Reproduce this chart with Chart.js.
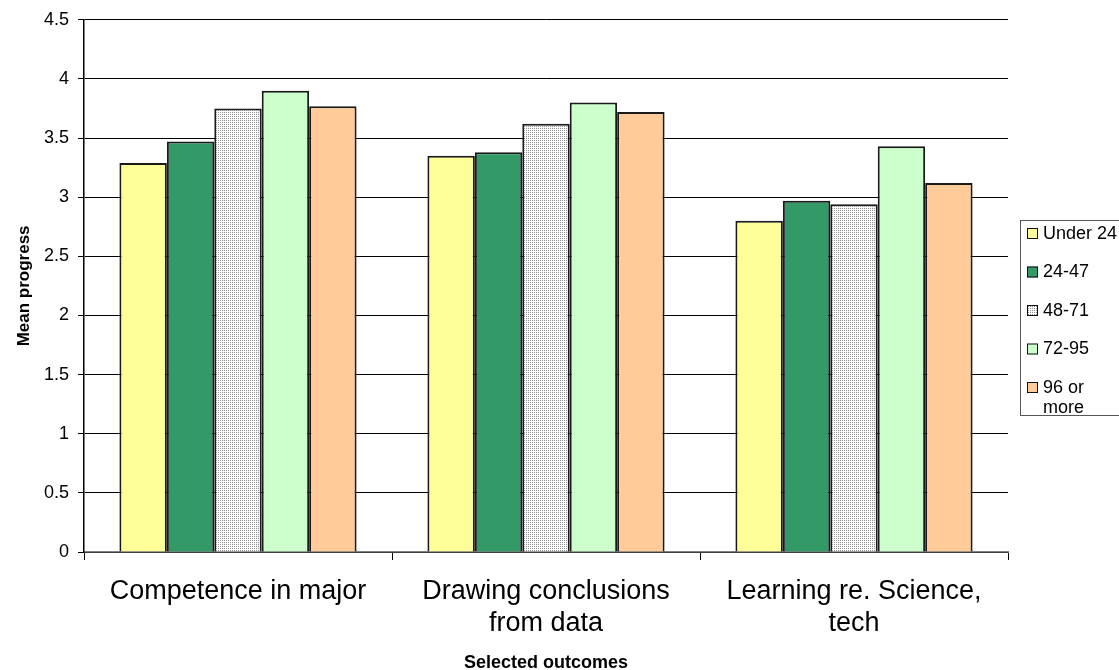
<!DOCTYPE html>
<html>
<head>
<meta charset="utf-8">
<script src="https://cdn.jsdelivr.net/npm/chart.js@4/dist/chart.umd.min.js"></script>
<style>
  html, body { margin: 0; padding: 0; background: #fff; }
  #wrap { width: 1119px; height: 670px; position: relative; }
</style>
</head>
<body>
<div id="wrap"><canvas id="c" width="1119" height="670"></canvas></div>
<script>
// Outcome categories (multi-line labels)
const categories = [
  ["Competence in major"],
  ["Drawing conclusions", "from data"],
  ["Learning re. Science,", "tech"]
];
// Credit-hour groups
const groupNames = ["Under 24", "24-47", "48-71", "72-95", "96 or more"];
const legendLines = [["Under 24"], ["24-47"], ["48-71"], ["72-95"], ["96 or", "more"]];
// Mean progress per group, one array per group across the three outcomes
const under24 = [3.29, 3.35, 2.80];
const g24to47 = [3.47, 3.38, 2.97];
const g48to71 = [3.75, 3.62, 2.94];
const g72to95 = [3.90, 3.80, 3.43];
const g96plus = [3.77, 3.72, 3.12];
const yTicks = [0, 0.5, 1, 1.5, 2, 2.5, 3, 3.5, 4, 4.5];

const FONT = "'Liberation Sans', Arial, sans-serif";

// Fine dotted fill for the 48-71 bars
function dotPattern() {
  const p = document.createElement('canvas');
  p.width = 2; p.height = 2;
  const g = p.getContext('2d');
  g.fillStyle = '#ffffff';
  g.fillRect(0, 0, 2, 2);
  g.fillStyle = '#909090';
  g.fillRect(0, 0, 1, 1);
  return document.getElementById('c').getContext('2d').createPattern(p, 'repeat');
}
const dots = dotPattern();

const fills = ['#FFFF99', '#339966', dots, '#CCFFCC', '#FFCC99'];
const seriesValues = [under24, g24to47, g48to71, g72to95, g96plus];

const datasets = groupNames.map((name, i) => ({
  label: name,
  data: seriesValues[i],
  backgroundColor: fills[i],
  borderColor: '#1a1a1a',
  borderWidth: 2,
  borderSkipped: 'bottom',
  categoryPercentage: 0.77,
  barPercentage: 1.0
}));

// Boxed legend on the right, with wrapped last entry
const boxLegend = {
  id: 'boxLegend',
  afterDraw(chart) {
    const ctx = chart.ctx;
    ctx.save();
    const x0 = 1020.5, y0 = 220.5, w = 110, h = 195;
    ctx.fillStyle = '#ffffff';
    ctx.fillRect(x0, y0, w, h);
    ctx.strokeStyle = '#555';
    ctx.lineWidth = 1;
    ctx.strokeRect(x0, y0, w, h);
    ctx.font = '18px ' + FONT;
    ctx.textBaseline = 'middle';
    const ys = [233, 271.5, 310, 348.5, 387];
    legendLines.forEach((ln, i) => {
      const y = ys[i];
      ctx.fillStyle = fills[i];
      ctx.fillRect(1027, y - 5, 11, 11);
      ctx.strokeStyle = '#111';
      ctx.strokeRect(1027.5, y - 4.5, 10, 10);
      ctx.fillStyle = '#000';
      ctx.textAlign = 'left';
      ln.forEach((t, k) => {
        ctx.fillText(t, 1043, y + 1 + k * 20);
      });
    });
    ctx.restore();
  }
};

new Chart(document.getElementById('c'), {
  type: 'bar',
  data: { labels: categories, datasets },
  options: {
    responsive: false,
    animation: false,
    devicePixelRatio: 1,
    layout: { padding: { top: 19, right: 111, left: 0, bottom: 0 } },
    plugins: {
      legend: { display: false },
      tooltip: { enabled: false }
    },
    scales: {
      x: {
        offset: true,
        grid: {
          offset: true,
          drawOnChartArea: false,
          drawTicks: true,
          tickLength: 8,
          color: '#000'
        },
        border: { display: true, color: '#808080', width: 1.5 },
        ticks: {
          color: '#000',
          font: { family: FONT, size: 27, lineHeight: 1.18 },
          padding: 16,
          maxRotation: 0,
          autoSkip: false
        },
        title: {
          display: true,
          text: 'Selected outcomes',
          color: '#000',
          font: { family: FONT, size: 18, weight: 'bold', lineHeight: 0.78 },
          padding: { top: 0, bottom: 0 }
        },
        afterFit(scale) { scale.height = 118; }
      },
      y: {
        min: 0,
        max: 4.5,
        afterBuildTicks(scale) { scale.ticks = yTicks.map(v => ({ value: v })); },
        grid: {
          color: '#000',
          lineWidth: 1,
          drawTicks: true,
          tickLength: 6
        },
        border: { display: true, color: '#000', width: 1.5 },
        ticks: {
          color: '#000',
          font: { family: FONT, size: 18 },
          padding: 9,
          callback: v => String(v)
        },
        title: {
          display: true,
          text: 'Mean progress',
          color: '#000',
          font: { family: FONT, size: 17, weight: 'bold' },
          padding: { top: 14, bottom: 0 }
        },
        afterFit(scale) { scale.width = 84; }
      }
    }
  },
  plugins: [boxLegend]
});
</script>
</body>
</html>
